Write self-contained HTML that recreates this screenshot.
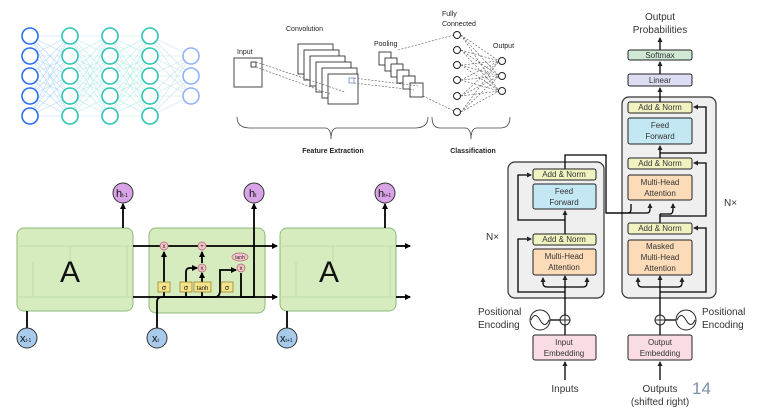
<!DOCTYPE html>
<html><head><style>
html,body{margin:0;padding:0;background:#fff;}
svg{display:block;font-family:"Liberation Sans",sans-serif;}
</style></head><body>
<svg width="758" height="420" viewBox="0 0 758 420" xmlns="http://www.w3.org/2000/svg">
<defs>
<marker id="a" markerWidth="6" markerHeight="6" refX="5" refY="3" orient="auto" markerUnits="userSpaceOnUse"><path d="M0,0 L6,3 L0,6 z" fill="#000"/></marker>
<marker id="b" markerWidth="5" markerHeight="5" refX="4" refY="2.5" orient="auto" markerUnits="userSpaceOnUse"><path d="M0,0 L5,2.5 L0,5 z" fill="#222"/></marker>
<path id="nnl" fill="none" d="M30,36L70,36M30,36L70,56M30,36L70,76M30,36L70,96M30,36L70,116M30,56L70,36M30,56L70,56M30,56L70,76M30,56L70,96M30,56L70,116M30,76L70,36M30,76L70,56M30,76L70,76M30,76L70,96M30,76L70,116M30,96L70,36M30,96L70,56M30,96L70,76M30,96L70,96M30,96L70,116M30,116L70,36M30,116L70,56M30,116L70,76M30,116L70,96M30,116L70,116"/>
</defs>

<!-- Neural net -->
<g stroke-width="0.6" opacity="0.55">
<use href="#nnl" stroke="#7ab8f0"/>
<use href="#nnl" x="40" stroke="#80d8e0"/>
<use href="#nnl" x="80" stroke="#80ddd0"/>
<path fill="none" stroke="#9cd" d="M150,36L191,56M150,36L191,76M150,36L191,96M150,56L191,56M150,56L191,76M150,56L191,96M150,76L191,56M150,76L191,76M150,76L191,96M150,96L191,56M150,96L191,76M150,96L191,96M150,116L191,56M150,116L191,76M150,116L191,96"/>
</g>
<g fill="#fff" stroke-width="1.6">
<g stroke="#2a6ef0"><circle cx="30" cy="36" r="8"/><circle cx="30" cy="56" r="8"/><circle cx="30" cy="76" r="8"/><circle cx="30" cy="96" r="8"/><circle cx="30" cy="116" r="8"/></g>
<g stroke="#2cc4b4"><circle cx="70" cy="36" r="8"/><circle cx="70" cy="56" r="8"/><circle cx="70" cy="76" r="8"/><circle cx="70" cy="96" r="8"/><circle cx="70" cy="116" r="8"/>
<circle cx="110" cy="36" r="8"/><circle cx="110" cy="56" r="8"/><circle cx="110" cy="76" r="8"/><circle cx="110" cy="96" r="8"/><circle cx="110" cy="116" r="8"/>
<circle cx="150" cy="36" r="8"/><circle cx="150" cy="56" r="8"/><circle cx="150" cy="76" r="8"/><circle cx="150" cy="96" r="8"/><circle cx="150" cy="116" r="8"/></g>
<g stroke="#8fb2fa"><circle cx="191" cy="56" r="8"/><circle cx="191" cy="76" r="8"/><circle cx="191" cy="96" r="8"/></g>
</g>

<!-- CNN -->
<g font-size="7" fill="#222">
<text x="237" y="54">Input</text><text x="286" y="31">Convolution</text><text x="374" y="46">Pooling</text>
<text x="442" y="16">Fully</text><text x="442" y="26">Connected</text><text x="493" y="48">Output</text>
<text x="333" y="153" text-anchor="middle" font-weight="bold">Feature Extraction</text>
<text x="473" y="153" text-anchor="middle" font-weight="bold">Classification</text>
</g>
<g fill="#fff" stroke="#333" stroke-width="0.9">
<rect x="234" y="58" width="28" height="29"/><rect x="251" y="62" width="5" height="5"/>
<rect x="298" y="44" width="35" height="30"/><rect x="304" y="50" width="35" height="30"/><rect x="310" y="56" width="35" height="30"/><rect x="316" y="62" width="35" height="30"/><rect x="322" y="68" width="35" height="30"/><rect x="328" y="74" width="30" height="30"/>
<rect x="349" y="78" width="5" height="5" stroke="#7899c8"/>
<rect x="379" y="52" width="12" height="13"/><rect x="385" y="58" width="12" height="13"/><rect x="391" y="64" width="12" height="13"/><rect x="397" y="70" width="12" height="13"/><rect x="403" y="76" width="12" height="13"/><rect x="410" y="83" width="13" height="14"/>
</g>
<g stroke="#555" stroke-width="0.6" stroke-dasharray="2,1.5" fill="none">
<line x1="256" y1="62" x2="345" y2="92"/><line x1="256" y1="67" x2="330" y2="94"/>
<line x1="354" y1="78" x2="418" y2="86"/><line x1="354" y1="83" x2="414" y2="90"/>
<line x1="398" y1="50" x2="454" y2="35"/><line x1="423" y1="96" x2="454" y2="111"/>
<path d="M461,35 L499,61 M461,35 L499,76 M461,35 L499,91 M461,50 L499,61 M461,50 L499,76 M461,50 L499,91 M461,65 L499,61 M461,65 L499,76 M461,65 L499,91 M461,80 L499,61 M461,80 L499,76 M461,80 L499,91 M461,96 L499,61 M461,96 L499,76 M461,96 L499,91 M461,112 L499,61 M461,112 L499,76 M461,112 L499,91"/>
</g>
<g fill="#fff" stroke="#222" stroke-width="1"><circle cx="457" cy="35" r="3.5"/><circle cx="457" cy="50" r="3.5"/><circle cx="457" cy="65" r="3.5"/><circle cx="457" cy="80" r="3.5"/><circle cx="457" cy="96" r="3.5"/><circle cx="457" cy="112" r="3.5"/>
<circle cx="502" cy="61" r="3.5"/><circle cx="502" cy="76" r="3.5"/><circle cx="502" cy="91" r="3.5"/></g>
<g stroke="#444" stroke-width="0.8" fill="none">
<path d="M237,117 Q237,128 250,128 L325,128 Q331,128 331,139 Q331,128 337,128 L415,128 Q428,128 428,117"/>
<path d="M432,117 Q432,128 440,128 L465,128 Q471,128 471,139 Q471,128 477,128 L500,128 Q510,128 510,117"/>
</g>

<!-- LSTM -->
<g fill="#d6ecbf" stroke="#8fb87a" stroke-width="1">
<rect x="17" y="228" width="116" height="83" rx="7"/>
<rect x="149" y="228" width="116" height="85" rx="7"/>
<rect x="280" y="228" width="116" height="83" rx="7"/>
</g>
<g stroke="#bfdba8" stroke-width="1" fill="none">
<path d="M17,246 H133 M17,297 H133 M33,297 V262 M70,262 V246 M127,246 V297"/>
<path d="M280,246 H396 M280,297 H396 M296,297 V262 M333,262 V246 M390,246 V297"/>
</g>
<text x="70" y="282" font-size="30" text-anchor="middle" fill="#111">A</text>
<text x="329" y="282" font-size="30" text-anchor="middle" fill="#111">A</text>
<g stroke="#000" stroke-width="1.8" fill="none">
<line x1="123" y1="228" x2="123" y2="204" marker-end="url(#a)"/>
<line x1="385" y1="228" x2="385" y2="204" marker-end="url(#a)"/>
<line x1="254" y1="297" x2="254" y2="204" marker-end="url(#a)"/>
<line x1="133" y1="246" x2="277" y2="246" marker-end="url(#a)"/>
<line x1="133" y1="297" x2="277" y2="297" marker-end="url(#a)"/>
<line x1="396" y1="246" x2="410" y2="246" marker-end="url(#a)"/>
<line x1="396" y1="297" x2="410" y2="297" marker-end="url(#a)"/>
<line x1="27" y1="328" x2="27" y2="311"/><line x1="287" y1="328" x2="287" y2="311"/>
<path d="M157,328 V302 Q157,297 162,297 H215 Q220,297 220,290 V270 H236" marker-end="url(#a)"/>
<line x1="164" y1="297" x2="164" y2="252" marker-end="url(#a)"/>
<line x1="202" y1="297" x2="202" y2="273" marker-end="url(#a)"/>
<line x1="202" y1="263" x2="202" y2="252" marker-end="url(#a)"/>
<path d="M186,297 V272 Q186,268 190,268 H197" marker-end="url(#a)"/>
<path d="M241,273 V297 H254"/>
</g>
<g fill="#f3c6cc" stroke="#b05f6a" stroke-width="0.7">
<circle cx="164" cy="246" r="4"/><circle cx="202" cy="246" r="4"/><circle cx="202" cy="268" r="4"/><circle cx="241" cy="268" r="4"/>
<ellipse cx="240" cy="257" rx="8" ry="4"/>
</g>
<g font-size="6" text-anchor="middle" fill="#222"><text x="164" y="248">x</text><text x="202" y="248">+</text><text x="202" y="270">x</text><text x="241" y="270">x</text><text x="240" y="259" font-size="5">tanh</text></g>
<g fill="#f4e38a" stroke="#8a7a20" stroke-width="0.7"><rect x="158" y="282" width="12" height="10"/><rect x="180" y="282" width="12" height="10"/><rect x="194" y="282" width="17" height="10"/><rect x="221" y="282" width="12" height="10"/></g>
<g font-size="7" text-anchor="middle" fill="#111"><text x="164" y="290">σ</text><text x="186" y="290">σ</text><text x="202.5" y="290" font-size="6">tanh</text><text x="227" y="290">σ</text></g>
<g stroke="#333" stroke-width="1"><circle cx="123" cy="193" r="10" fill="#d9a4e6"/><circle cx="254" cy="193" r="10" fill="#d9a4e6"/><circle cx="385" cy="193" r="10" fill="#d9a4e6"/>
<circle cx="27" cy="338" r="10" fill="#a8cbec"/><circle cx="157" cy="338" r="10" fill="#a8cbec"/><circle cx="287" cy="338" r="10" fill="#a8cbec"/></g>
<g font-size="11" fill="#111"><text x="116" y="197">h<tspan font-size="5">t-1</tspan></text><text x="249" y="197">h<tspan font-size="5">t</tspan></text><text x="378" y="197">h<tspan font-size="5">t+1</tspan></text>
<text x="20" y="342">x<tspan font-size="5">t-1</tspan></text><text x="152" y="342">x<tspan font-size="5">t</tspan></text><text x="280" y="342">x<tspan font-size="5">t+1</tspan></text></g>

<!-- Transformer -->
<g fill="#efefef" stroke="#333" stroke-width="1.2"><rect x="508" y="162" width="96" height="136" rx="7"/><rect x="622" y="97" width="94" height="201" rx="7"/></g>
<g stroke="#000" stroke-width="1.3" fill="none">
<line x1="565" y1="380" x2="565" y2="362" marker-end="url(#b)"/>
<line x1="660" y1="380" x2="660" y2="362" marker-end="url(#b)"/>
<line x1="565" y1="335" x2="565" y2="325"/><line x1="660" y1="335" x2="660" y2="325"/>
<line x1="565" y1="315" x2="565" y2="276" marker-end="url(#b)"/>
<line x1="660" y1="315" x2="660" y2="276" marker-end="url(#b)"/>
<line x1="550" y1="320" x2="560" y2="320"/><line x1="665" y1="320" x2="676" y2="320"/>
<path d="M565,287 H547 Q543,287 543,283 V278" marker-end="url(#b)"/><path d="M565,287 H583 Q587,287 587,283 V278" marker-end="url(#b)"/>
<path d="M565,292 H518 V239 H531" marker-end="url(#b)"/>
<line x1="565" y1="234" x2="565" y2="211" marker-end="url(#b)"/>
<path d="M565,220 H518 V175 H531" marker-end="url(#b)"/>
<path d="M565,169 V155 H606 V213 H647 Q650,213 650,209 V204" marker-end="url(#b)"/>
<path d="M606,213 H628 Q631,213 631,209 V204"/>
<path d="M660,287 H642 Q638,287 638,283 V278" marker-end="url(#b)"/><path d="M660,287 H678 Q682,287 682,283 V278" marker-end="url(#b)"/>
<path d="M660,292 H706 V228 H694" marker-end="url(#b)"/>
<line x1="660" y1="223" x2="660" y2="214"/><path d="M660,214 H670 Q673,214 673,209 V204" marker-end="url(#b)"/>
<path d="M660,216 H706 V163 H694" marker-end="url(#b)"/>
<line x1="660" y1="158" x2="660" y2="146" marker-end="url(#b)"/>
<path d="M660,153 H706 V107 H694" marker-end="url(#b)"/>
<line x1="660" y1="102" x2="660" y2="88" marker-end="url(#b)"/>
<line x1="660" y1="74" x2="660" y2="62" marker-end="url(#b)"/>
<line x1="660" y1="50" x2="660" y2="38" marker-end="url(#b)"/>
</g>
<g stroke="#222" stroke-width="1">
<g fill="#f0f3c0"><rect x="533" y="169" width="63" height="11" rx="2"/><rect x="533" y="234" width="63" height="11" rx="2"/><rect x="628" y="102" width="64" height="11" rx="2"/><rect x="628" y="158" width="64" height="11" rx="2"/><rect x="628" y="223" width="64" height="11" rx="2"/></g>
<g fill="#c4e7f4"><rect x="533" y="184" width="63" height="25" rx="2"/><rect x="628" y="118" width="64" height="26" rx="2"/></g>
<g fill="#fcdbb8"><rect x="533" y="249" width="63" height="26" rx="2"/><rect x="628" y="175" width="64" height="25" rx="2"/><rect x="628" y="240" width="64" height="35" rx="2"/></g>
<g fill="#fadde4"><rect x="533" y="335" width="63" height="25" rx="2"/><rect x="628" y="335" width="64" height="25" rx="2"/></g>
<rect x="628" y="50" width="64" height="10" rx="2" fill="#cfe9d5"/><rect x="628" y="74" width="64" height="12" rx="2" fill="#dcdcf2"/>
<g fill="#fff"><circle cx="565" cy="320" r="5"/><circle cx="660" cy="320" r="5"/><circle cx="540" cy="320" r="10"/><circle cx="686" cy="320" r="10"/></g>
</g>
<g stroke="#222" stroke-width="1" fill="none"><path d="M560,320 H570 M565,315 V325 M655,320 H665 M660,315 V325"/>
<path d="M531,320 Q535,311 540,320 Q545,329 549,320"/><path d="M677,320 Q681,311 686,320 Q691,329 695,320"/></g>
<g font-size="8" text-anchor="middle" fill="#333">
<text x="564" y="177">Add &amp; Norm</text><text x="564" y="242">Add &amp; Norm</text><text x="660" y="110">Add &amp; Norm</text><text x="660" y="166">Add &amp; Norm</text><text x="660" y="231">Add &amp; Norm</text>
<text x="564" y="194">Feed</text><text x="564" y="205">Forward</text><text x="660" y="128">Feed</text><text x="660" y="139">Forward</text>
<text x="564" y="259">Multi-Head</text><text x="564" y="270">Attention</text><text x="660" y="185">Multi-Head</text><text x="660" y="196">Attention</text>
<text x="660" y="249">Masked</text><text x="660" y="260">Multi-Head</text><text x="660" y="271">Attention</text>
<text x="564" y="345">Input</text><text x="564" y="356">Embedding</text><text x="660" y="345">Output</text><text x="660" y="356">Embedding</text>
<text x="660" y="58">Softmax</text><text x="660" y="83">Linear</text>
</g>
<g font-size="10" fill="#333">
<text x="660" y="20" text-anchor="middle">Output</text><text x="660" y="33" text-anchor="middle">Probabilities</text>
<text x="478" y="315">Positional</text><text x="478" y="328">Encoding</text>
<text x="702" y="315">Positional</text><text x="702" y="328">Encoding</text>
<text x="565" y="392" text-anchor="middle">Inputs</text>
<text x="660" y="392" text-anchor="middle">Outputs</text><text x="660" y="405" text-anchor="middle">(shifted right)</text>
<text x="486" y="240">N×</text><text x="724" y="206">N×</text>
</g>
<text x="692" y="394" font-size="17" fill="#7d8fa8">14</text>
</svg>
</body></html>
